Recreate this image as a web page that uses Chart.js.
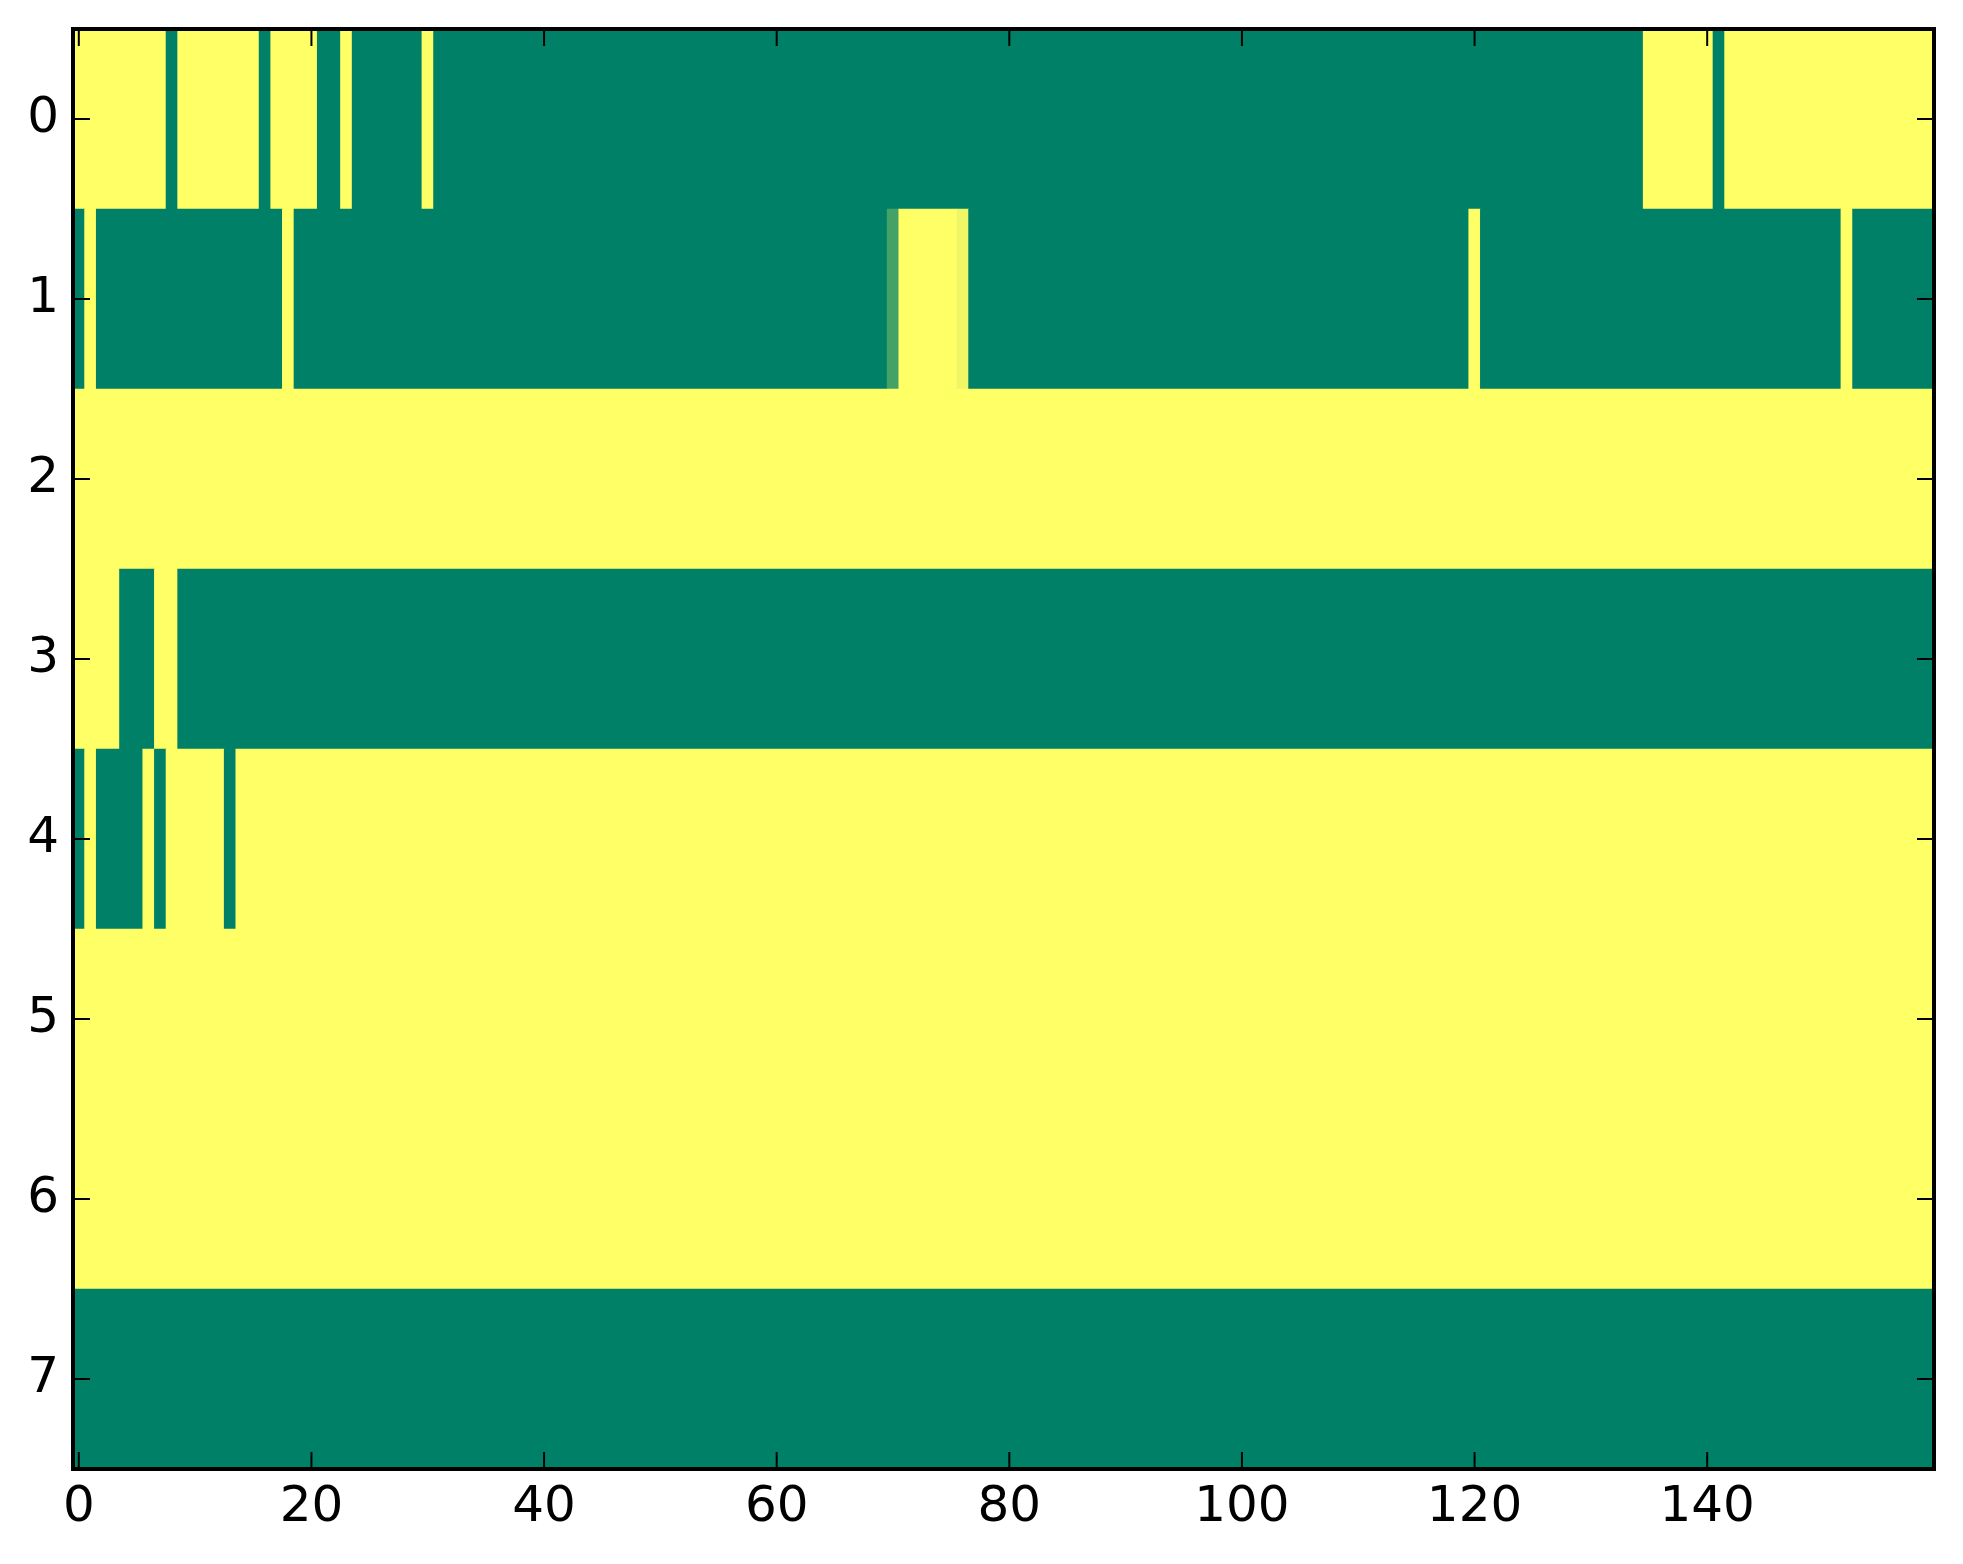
<!DOCTYPE html>
<html><head><meta charset="utf-8">
<script src="https://cdn.jsdelivr.net/npm/chart.js@4.4.1/dist/chart.umd.min.js"></script>
<style>html,body{margin:0;padding:0;background:#fff;}canvas{display:block;}</style>
</head><body>
<canvas id="c" width="1963" height="1564"></canvas>
<script>
// ---- data ----
const nCols = 160;
const rowLabels = [0, 1, 2, 3, 4, 5, 6, 7];
const xTicks = [0, 20, 40, 60, 80, 100, 120, 140];
// each row as runs of [value, count] along columns 0..159 (value 0 = low, 1 = high)
const row0 = [[1,8],[0,1],[1,7],[0,1],[1,4],[0,2],[1,1],[0,6],[1,1],[0,104],[1,6],[0,1],[1,18]];
const row1 = [[0,1],[1,1],[0,16],[1,1],[0,51],[0.27,1],[1,5],[0.94,1],[0,43],[1,1],[0,31],[1,1],[0,7]];
const row2 = [[1,160]];
const row3 = [[1,4],[0,3],[1,2],[0,151]];
const row4 = [[0,1],[1,1],[0,4],[1,1],[0,1],[1,5],[0,1],[1,146]];
const row5 = [[1,160]];
const row6 = [[1,160]];
const row7 = [[0,160]];

// matplotlib "summer" colormap
function summer(v) {
  return 'rgb(' + Math.round(255 * v) + ',' + Math.round(127.5 + 127.5 * v) + ',102)';
}

const rows = [row0, row1, row2, row3, row4, row5, row6, row7];
const bars = [], colors = [];
rows.forEach((runs, r) => {
  let c = 0;
  runs.forEach(([v, n]) => {
    bars.push({ x: [c - 0.5, c + n - 0.5], y: rowLabels[r] });
    colors.push(summer(v));
    c += n;
  });
});

const TICK_LEN = 17;
const framePlugin = {
  id: 'frame',
  afterDraw(chart) {
    const { ctx, chartArea: a, scales: { x, y } } = chart;
    ctx.save();
    ctx.strokeStyle = '#000';
    ctx.lineWidth = 2;
    ctx.beginPath();
    xTicks.forEach(v => {
      const px = x.getPixelForValue(v);
      ctx.moveTo(px, a.bottom); ctx.lineTo(px, a.bottom - TICK_LEN);
      ctx.moveTo(px, a.top); ctx.lineTo(px, a.top + TICK_LEN);
    });
    rowLabels.forEach(v => {
      const py = y.getPixelForValue(v);
      ctx.moveTo(a.left, py); ctx.lineTo(a.left + TICK_LEN, py);
      ctx.moveTo(a.right, py); ctx.lineTo(a.right - TICK_LEN, py);
    });
    ctx.stroke();
    ctx.lineWidth = 4;
    ctx.strokeRect(a.left, a.top, a.right - a.left, a.bottom - a.top);
    ctx.restore();
  }
};

const tickFont = { family: 'DejaVu Sans', size: 50 };
function noPad(s) { s.paddingTop = 0; s.paddingBottom = 0; s.paddingLeft = 0; s.paddingRight = 0; }

new Chart(document.getElementById('c').getContext('2d'), {
  type: 'bar',
  data: {
    datasets: [{
      data: bars,
      backgroundColor: colors,
      borderWidth: 0,
      categoryPercentage: 1,
      barPercentage: 1
    }]
  },
  options: {
    indexAxis: 'y',
    responsive: false,
    animation: false,
    devicePixelRatio: 1,
    layout: { padding: { top: 29, right: 29, left: 0, bottom: 0 } },
    plugins: { legend: { display: false }, tooltip: { enabled: false } },
    scales: {
      x: {
        type: 'linear', position: 'bottom', min: -0.5, max: nCols - 0.5, offset: false,
        afterBuildTicks: s => { s.ticks = xTicks.map(v => ({ value: v })); },
        afterFit: s => { s.height = 95; noPad(s); },
        grid: { display: false, drawTicks: false }, border: { display: false },
        ticks: { padding: 9, color: '#000', font: tickFont, maxRotation: 0, autoSkip: false }
      },
      y: {
        type: 'linear', position: 'left', min: -0.5, max: rowLabels.length - 0.5, reverse: true, offset: false,
        afterBuildTicks: s => { s.ticks = rowLabels.map(v => ({ value: v })); },
        afterFit: s => { s.width = 73; noPad(s); },
        grid: { display: false, drawTicks: false }, border: { display: false },
        ticks: { padding: 14, color: '#000', font: tickFont, autoSkip: false }
      }
    }
  },
  plugins: [framePlugin]
});
</script>
</body></html>
